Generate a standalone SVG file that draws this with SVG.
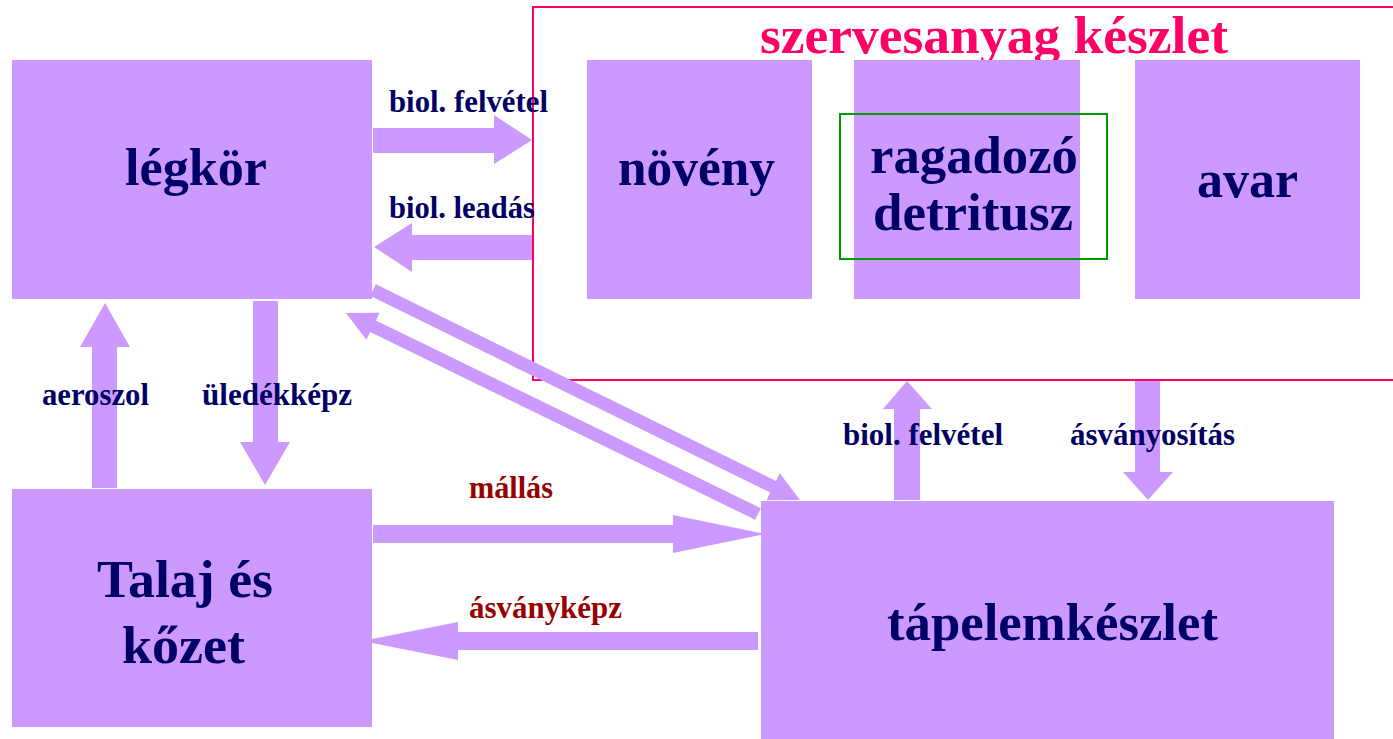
<svg xmlns="http://www.w3.org/2000/svg" width="1393" height="739" viewBox="0 0 1393 739">
<style>
.node{fill:#CC99FF}
.arr{fill:#CC99FF}
.big{font-family:"Liberation Serif","Times New Roman",serif;font-weight:bold;font-size:53px;fill:#000066}
.lab{font-family:"Liberation Serif","Times New Roman",serif;font-weight:bold;font-size:31px;fill:#000066}
.red{fill:#990000}
.title{font-family:"Liberation Serif","Times New Roman",serif;font-weight:bold;font-size:53px;fill:#FF0066}
</style>
<rect width="1393" height="739" fill="#FFFFFF"/>
<g id="frame">
<rect x="533" y="7" width="880" height="373" fill="none" stroke="#FF0066" stroke-width="2"/>
<text class="title" x="760" y="53" textLength="468" lengthAdjust="spacingAndGlyphs">szervesanyag készlet</text>
</g>
<g id="legkor">
<rect class="node" x="12" y="60" width="360" height="239"/>
<text class="big" x="125" y="185" textLength="142" lengthAdjust="spacingAndGlyphs">légkör</text>
</g>
<g id="noveny">
<rect class="node" x="587" y="60" width="225" height="239"/>
<text class="big" x="618" y="185" textLength="157" lengthAdjust="spacingAndGlyphs">növény</text>
</g>
<g id="ragadozo">
<rect class="node" x="854" y="60" width="226" height="239"/>
<rect x="840" y="114" width="267" height="145" fill="none" stroke="#009900" stroke-width="2"/>
<text class="big" x="870" y="173" textLength="208" lengthAdjust="spacingAndGlyphs">ragadozó</text>
<text class="big" x="873" y="230" textLength="200" lengthAdjust="spacingAndGlyphs">detritusz</text>
</g>
<g id="avar">
<rect class="node" x="1135" y="60" width="225" height="239"/>
<text class="big" x="1197" y="197" textLength="101" lengthAdjust="spacingAndGlyphs">avar</text>
</g>
<g id="talaj">
<rect class="node" x="12" y="489" width="360" height="238"/>
<text class="big" x="97" y="597" textLength="176" lengthAdjust="spacingAndGlyphs">Talaj és</text>
<text class="big" x="122" y="663" textLength="123" lengthAdjust="spacingAndGlyphs">kőzet</text>
</g>
<g id="tapelem">
<rect class="node" x="761" y="501" width="573" height="238"/>
<text class="big" x="887" y="640" textLength="331" lengthAdjust="spacingAndGlyphs">tápelemkészlet</text>
</g>
<g id="connectors">
<polygon class="arr" points="373,128 494,128 494,115 532,140 494,164 494,153 373,153"/>
<polygon class="arr" points="532,235 412,235 412,223 374,247 412,272 412,260 532,260"/>
<polygon class="arr" points="92,488 92,347 80,347 105,303 130,347 117,347 117,488"/>
<polygon class="arr" points="253,301 278,301 278,442 290,442 265,485 240,442 253,442"/>
<polygon class="arr" points="373,525 673,525 673,515 765,534 673,553 673,543 373,543"/>
<polygon class="arr" points="758,632 458,632 458,622 362,641 458,660 458,650 758,650"/>
<polygon class="arr" points="894,500 894,409 883,409 907,381 932,409 920,409 920,500"/>
<polygon class="arr" points="1135,381 1160,381 1160,472 1173,472 1148,500 1123,472 1135,472"/>
<polygon class="arr" points="375.9,284.2 776,481 779.7,473.3 800,500 766.5,500.3 770.2,492.6 370.1,295.8"/>
<polygon class="arr" points="346,313 379.6,312.7 375.9,320.4 760.9,508.2 755.2,519.8 370.2,332 366.4,339.7"/>
</g>
<g id="labels">
<text class="lab" x="389" y="112" textLength="159" lengthAdjust="spacingAndGlyphs">biol. felvétel</text>
<text class="lab" x="389" y="218" textLength="146" lengthAdjust="spacingAndGlyphs">biol. leadás</text>
<text class="lab" x="42" y="405" textLength="107" lengthAdjust="spacingAndGlyphs">aeroszol</text>
<text class="lab" x="202" y="405" textLength="150" lengthAdjust="spacingAndGlyphs">üledékképz</text>
<text class="lab" x="843" y="445" textLength="160" lengthAdjust="spacingAndGlyphs">biol. felvétel</text>
<text class="lab" x="1070" y="445" textLength="165" lengthAdjust="spacingAndGlyphs">ásványosítás</text>
<text class="lab red" x="469" y="498" textLength="84" lengthAdjust="spacingAndGlyphs">mállás</text>
<text class="lab red" x="469" y="618" textLength="153" lengthAdjust="spacingAndGlyphs">ásványképz</text>
</g>
</svg>
